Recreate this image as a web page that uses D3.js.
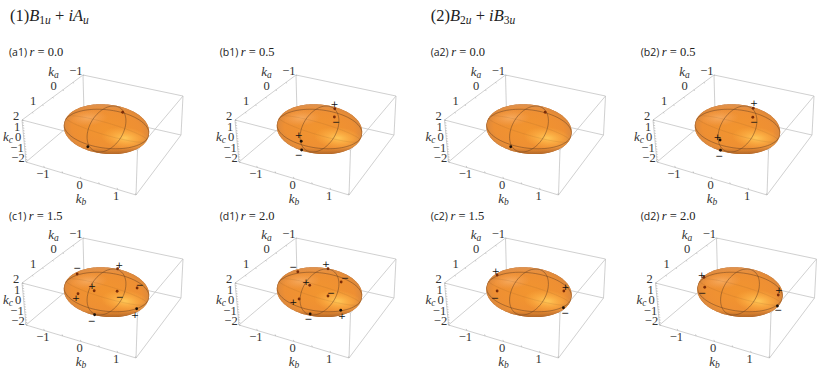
<!DOCTYPE html>
<html>
<head>
<meta charset="utf-8">
<script src="https://d3js.org/d3.v7.min.js"></script>
<style>
    html, body { margin: 0; background: white; }
    svg { display: block; }
    text { fill: #222; }
    .tick { font-family: "Liberation Serif"; font-size: 12.5px; text-anchor: middle; dominant-baseline: middle; fill: #333; }
    .sign { font-family: "DejaVu Sans"; font-size: 9.5px; text-anchor: middle; dominant-baseline: middle; fill: #111; }
</style>
</head>
<body>
<svg id="chart" width="817" height="370"></svg>
<script>
const panelNames = ["a1", "b1", "c1", "d1", "a2", "b2", "c2", "d2"];
const panelR = ["0.0", "0.5", "1.5", "2.0", "0.0", "0.5", "1.5", "2.0"];

const kbTicks = [-1, 0, 1];
const kaTicks = [-1, 0, 1];
const kcTicks = [-2, -1, 0, 1, 2];

// gap nodes and their chirality signs, in units of the ellipsoid's on-screen semi axes
const nodes = {
    a1: [[.38, .67], [-.44, -.71]],
    b1: [[.36, .81], [.35, .48], [-.43, -.49], [-.42, -.84]],
    c1: [[-.69, .72], [.26, .93], [.72, .16], [-.29, .05], [.25, .03], [-.67, -.07], [.71, -.67], [-.28, -.91]],
    d1: [[-.51, .81], [.20, .93], [.51, .40], [-.23, .27], [.20, -.16], [-.48, -.28], [.50, -.73], [-.22, -.88]],
    a2: [[.38, .67], [-.43, -.71]],
    b2: [[.37, .83], [.36, .47], [-.41, -.44], [-.40, -.85]],
    c2: [[-.75, .68], [-.75, .04], [.82, .04], [.81, -.63]],
    d2: [[-.85, .59], [-.83, .19], [.90, -.12], [.88, -.56]]
};
const plusSigns = {
    a1: [], a2: [],
    b1: [[.35, .99], [-.49, -.27]],
    c1: [[.30, 1.07], [-.34, .23], [-.72, -.25], [.67, -.93]],
    d1: [[.15, 1.11], [-.32, .37], [-.62, -.43], [.53, -.97]],
    b2: [[.39, 1.03], [-.47, -.32]],
    c2: [[-.78, .84], [.86, .19]],
    d2: [[-.90, .68], [.92, .07]]
};
const minusSigns = {
    a1: [], a2: [],
    b1: [[.39, .27], [-.49, -1.05]],
    c1: [[-.69, .95], [.78, .28], [.31, -.21], [-.35, -1.17]],
    d1: [[-.62, .97], [.60, .56], [.27, -.07], [-.26, -1.11]],
    b2: [[.39, .27], [-.43, -1.08]],
    c2: [[-.80, -.25], [.85, -.85]],
    d2: [[-.89, -.05], [.90, -.72]]
};

// great circles drawn on the ellipsoid, as conjugate half axes, with their strength
const rings = [
    [[.18, .92], [.42, -.04], .75],
    [[1.0, -.13], [-.05, .78], .75],
    [[.96, -.44], [-.1, .3], .16]
];

const svg = d3.select("#chart");
const defs = svg.append("defs");

// screen offset of each panel relative to the first one
const panelOffset = {
    a1: [0, 0], b1: [213, 0], c1: [0, 163], d1: [213, 163],
    a2: [422.5, 0], b2: [631, 0], c2: [422.5, 163], d2: [633.5, 163]
};
const titlePos = {
    a1: [9, 56], b1: [219.7, 56], c1: [9, 220], d1: [219.7, 220],
    a2: [430.7, 56], b2: [640.7, 56], c2: [430.7, 220], d2: [640.7, 220]
};

// box corners, [kb, ka, kc] -> screen
const corners = {
    "-1,1,1": [22, 120], "-1,-1,1": [83, 75], "1,1,1": [137.5, 150], "1,-1,1": [183, 96],
    "-1,1,-1": [26, 162], "-1,-1,-1": [84, 113], "1,1,-1": [136, 195], "1,-1,-1": [181, 135]
};
const kbNorm = d3.scaleLinear().domain([-1.5, 1.5]).range([0, 1]);
const kaNorm = d3.scaleLinear().domain([-1.5, 1.5]).range([0, 1]);
const kcNorm = d3.scaleLinear().domain([-2, 2]).range([0, 1]);

function project(kb, ka, kc) {
    const b = kbNorm(kb), a = kaNorm(ka), c = kcNorm(kc);
    let x = 0, y = 0;
    for (const sb of [-1, 1]) for (const sa of [-1, 1]) for (const sc of [-1, 1]) {
        const w = (sb > 0 ? b : 1 - b) * (sa > 0 ? a : 1 - a) * (sc > 0 ? c : 1 - c);
        const p = corners[`${sb},${sa},${sc}`];
        x += w * p[0];
        y += w * p[1];
    }
    return [x, y];
}

const uScale = d3.scaleLinear().domain([-1, 1]).range([64, 149]);
const vScale = d3.scaleLinear().domain([-1, 1]).range([154, 104]);
const tilt = 6 * Math.PI / 180;

const ringLine = d3.line().x(d => d[0]).y(d => d[1]).curve(d3.curveLinearClosed);

// a touch squarer than an ellipse, the outline of the surface is a bit egg shaped
function outlinePath() {
    const cx = uScale(0), cy = vScale(0) + 0.2, a = 42.8, b = 24.6, e = 2 / 2.06;
    return ringLine(d3.range(0, 2 * Math.PI, 0.04).map(t => {
        const c = Math.cos(t), s = Math.sin(t);
        const x = a * Math.sign(c) * Math.pow(Math.abs(c), e), y = b * Math.sign(s) * Math.pow(Math.abs(s), e);
        return [cx + x * Math.cos(tilt) - y * Math.sin(tilt), cy + x * Math.sin(tilt) + y * Math.cos(tilt)];
    }));
}

function radial(id, stops) {
    const g = defs.append("radialGradient").attr("id", id)
        .attr("gradientUnits", "userSpaceOnUse")
        .attr("cx", 0).attr("cy", 0).attr("r", 1);
    stops.forEach(s => g.append("stop").attr("offset", s[0]).attr("stop-color", s[1]).attr("stop-opacity", s[2]));
}

radial("hlLow", [[0, "#ffc858", 1], [.5, "#ffb648", .6], [1, "#ffb040", 0]]);
radial("hlHigh", [[0, "#f8b068", .8], [1, "#f4a45c", 0]]);
radial("rim", [[0, "#f2952f", 1], [.8, "#ee8f33", 1], [.94, "#e08a3a", 1], [1, "#cc8344", 1]]);
defs.append("linearGradient").attr("id", "shade").attr("x1", 0).attr("y1", 0).attr("x2", 0).attr("y2", 1)
    .selectAll("stop")
    .data([[0, "#dca680", .5], [.2, "#e09050", 0], [.84, "#7a3c10", 0], [1, "#7a3c10", .55]])
    .join("stop")
    .attr("offset", d => d[0]).attr("stop-color", d => d[1]).attr("stop-opacity", d => d[2]);
defs.append("clipPath").attr("id", "ovalClip").append("path").attr("d", outlinePath());

function drawBox(g) {
    const edges = [
        [[-1, 1, 1], [-1, -1, 1]], [[-1, -1, 1], [1, -1, 1]], [[1, -1, 1], [1, 1, 1]], [[1, 1, 1], [-1, 1, 1]],
        [[-1, 1, -1], [-1, -1, -1]], [[-1, -1, -1], [1, -1, -1]], [[1, -1, -1], [1, 1, -1]], [[1, 1, -1], [-1, 1, -1]],
        [[-1, 1, 1], [-1, 1, -1]], [[-1, -1, 1], [-1, -1, -1]], [[1, 1, 1], [1, 1, -1]], [[1, -1, 1], [1, -1, -1]]
    ];
    const ends = c => project(c[0] * 1.5, c[1] * 1.5, c[2] * 2);
    g.selectAll("line.edge").data(edges).join("line").attr("class", "edge")
        .attr("x1", d => ends(d[0])[0]).attr("y1", d => ends(d[0])[1])
        .attr("x2", d => ends(d[1])[0]).attr("y2", d => ends(d[1])[1])
        .attr("stroke", "#c4c4c4").attr("stroke-width", 0.8);

    // minor ticks along the labelled edges
    const minorLine = (from, to) => g.append("line")
        .attr("x1", from[0]).attr("y1", from[1]).attr("x2", to[0]).attr("y2", to[1])
        .attr("stroke", "#aaa").attr("stroke-width", 0.6);
    d3.range(-2, 2.01, 0.25).forEach(k => {
        const p = project(-1.5, 1.5, k);
        minorLine(p, [p[0] + 1.6, p[1] + 0.4]);
    });
    d3.range(-1.5, 1.51, 0.5).forEach(k => {
        const p = project(k, 1.5, -2);
        minorLine(p, [p[0] - 0.6, p[1] - 1.6]);
        const q = project(-1.5, k, 2);
        minorLine(q, [q[0] + 1.2, q[1] + 0.6]);
    });
}

function drawAxisLabels(g) {
    const tick = (pos, dx, dy, label) => g.append("text").attr("class", "tick")
        .attr("x", pos[0] + dx).attr("y", pos[1] + dy)
        .text(String(label).replace("-", "\u2212"));
    kbTicks.forEach(k => tick(project(k, 1.5, -2), -1.5, 7.5, k));
    kaTicks.forEach(k => tick(project(-1.5, k, 2), k < 0 ? 3 : 1, -10, k));
    kcTicks.forEach(k => tick(project(-1.5, 1.5, k), k < 0 ? -8 : -6, -2.5, k));

    const axisName = (pos, dx, dy, sub) => {
        const t = g.append("text").attr("class", "tick")
            .attr("x", pos[0] + dx).attr("y", pos[1] + dy)
            .style("font-style", "italic").style("font-size", "13px").text("k");
        t.append("tspan").attr("dy", 2.5).style("font-size", "9.5px").text(sub);
    };
    axisName(project(-1.5, 0, 2), 1, -24, "a");
    axisName(project(0, 1.5, -2), 0, 22, "b");
    axisName(project(-1.5, 1.5, 0), -16, -3, "c");
}

function drawOval(g) {
    const cx = uScale(0), cy = vScale(0);
    const body = g.append("g").attr("clip-path", "url(#ovalClip)");
    const ell = (x, y, rx, ry, fill, rot) => body.append("ellipse")
        .attr("rx", 1).attr("ry", 1).attr("fill", fill)
        .attr("transform", `translate(${x},${y}) rotate(${rot}) scale(${rx},${ry})`);
    body.append("rect").attr("x", 60).attr("y", 100).attr("width", 95).attr("height", 58).attr("fill", "#cc8344");
    ell(cx, cy + 0.2, 44, 25.6, "url(#rim)", 6);
    ell(125, 138, 24, 11, "url(#hlLow)", 6);
    ell(88, 118, 20, 8, "url(#hlHigh)", -3);
    body.append("rect").attr("x", 60).attr("y", 102).attr("width", 95).attr("height", 54).attr("fill", "url(#shade)");

    rings.forEach(r => {
        body.append("path")
            .attr("d", ringLine(d3.range(0, 2 * Math.PI, 0.08).map(t => [
                uScale(r[0][0] * Math.cos(t) + r[1][0] * Math.sin(t)),
                vScale(r[0][1] * Math.cos(t) + r[1][1] * Math.sin(t))
            ])))
            .attr("fill", "none").attr("stroke", "#6e4524").attr("stroke-opacity", r[2]).attr("stroke-width", 0.7);
    });
}

function drawPanelTitle(name, r) {
    const t = svg.append("text").attr("x", titlePos[name][0]).attr("y", titlePos[name][1])
        .style("font-family", "Open Sans").style("font-size", "10.5px");
    t.append("tspan").text(`(${name})`);
    t.append("tspan").attr("dx", 2.5).style("font-family", "Liberation Serif").style("font-style", "italic").style("font-size", "12.5px").text("r");
    t.append("tspan").style("font-family", "Liberation Serif").style("font-size", "12.5px").text(` = ${r}`);
}

panelNames.forEach((name, i) => {
    const off = panelOffset[name];
    const g = svg.append("g").attr("transform", `translate(${off[0]},${off[1]})`);
    drawPanelTitle(name, panelR[i]);
    drawBox(g);
    drawOval(g);
    drawAxisLabels(g);

    g.selectAll("circle.node").data(nodes[name]).join("circle").attr("class", "node")
        .attr("cx", d => uScale(d[0])).attr("cy", d => vScale(d[1])).attr("r", 1.4)
        .attr("fill", d => d[1] > -0.3 ? "#7a2c08" : "#1a0f08");
    const signs = plusSigns[name].map(d => [d, "+"]).concat(minusSigns[name].map(d => [d, "\u2212"]));
    g.selectAll("text.sign").data(signs).join("text").attr("class", "sign")
        .attr("x", d => uScale(d[0][0])).attr("y", d => vScale(d[0][1]))
        .text(d => d[1]);
});

function drawHeader(x, num, parts) {
    const t = svg.append("text").attr("x", x).attr("y", 21)
        .style("font-family", "Liberation Serif").style("font-size", "16.5px");
    t.append("tspan").text(num);
    parts.forEach(p => {
        const s = t.append("tspan").text(p[0]);
        if (p[1] === "i") s.style("font-style", "italic");
        if (p[1] === "s") s.attr("dy", 3).style("font-size", "11.5px");
        if (p[1] === "su0") s.style("font-size", "11.5px").style("font-style", "italic");
        if (p[1] === "su") s.attr("dy", 3).style("font-size", "11.5px").style("font-style", "italic");
        if (p[1] === "r") s.attr("dy", -3);
    });
}
drawHeader(10, "(1)", [["B", "i"], ["1", "s"], ["u", "su0"], [" + ", "r"], ["i", "i"], ["A", "i"], ["u", "su"]]);
drawHeader(430.7, "(2)", [["B", "i"], ["2", "s"], ["u", "su0"], [" + ", "r"], ["i", "i"], ["B", "i"], ["3", "s"], ["u", "su0"]]);
</script>
</body>
</html>
